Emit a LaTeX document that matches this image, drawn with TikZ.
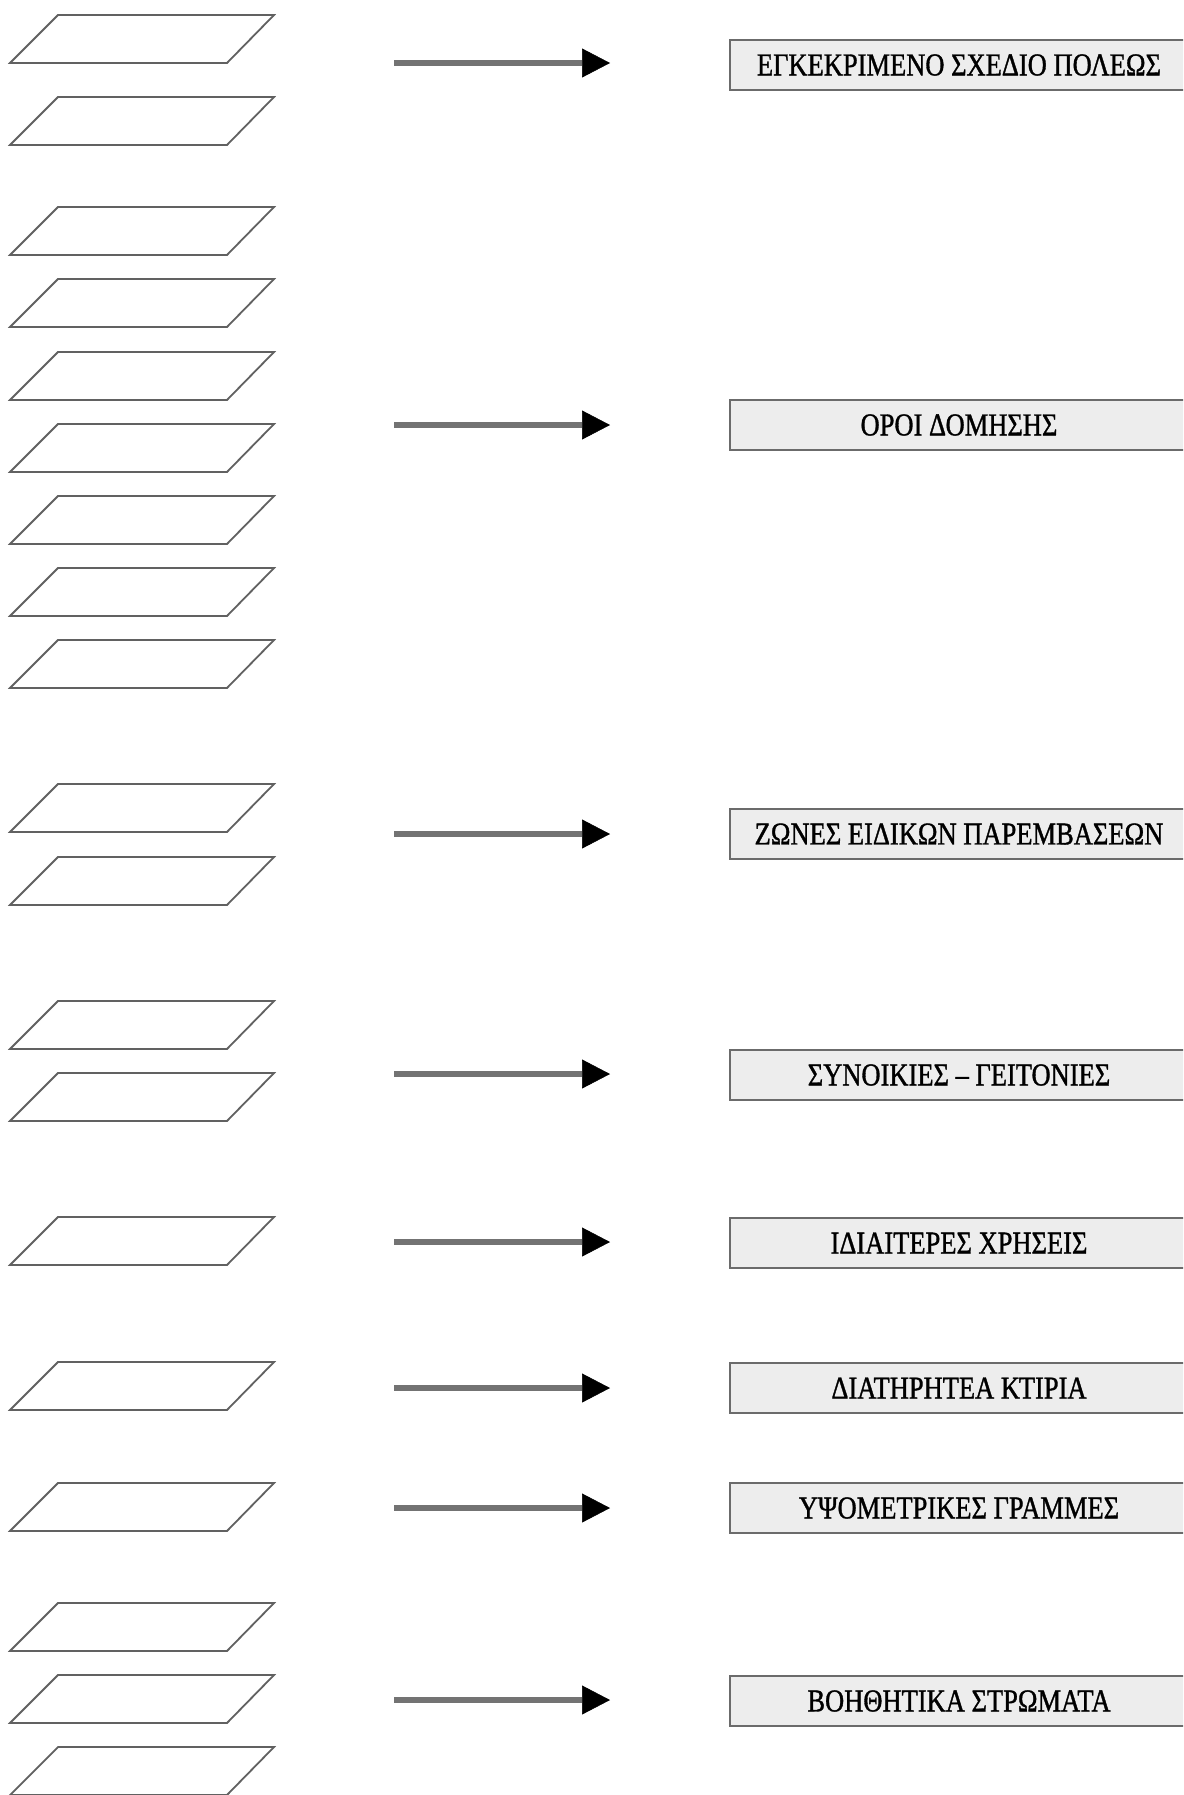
\documentclass[tikz,border=0pt]{standalone}
\usepackage{fontspec}
\usepackage{graphicx}
\setmainfont{Liberation Serif}
\newfontfamily\labelfont[FakeBold=1.2]{Liberation Serif}
\usetikzlibrary{arrows.meta}
\definecolor{boxfill}{gray}{0.93}
\definecolor{linegray}{gray}{0.38}
\definecolor{shaftgray}{gray}{0.45}
\definecolor{boxline}{gray}{0.42}
\begin{document}
\begin{tikzpicture}[x=1bp,y=-1bp,
  layer/.style={draw=linegray,line width=1.8bp,line join=miter},
  labelbox/.style={draw=boxline,line width=2.2bp,fill=boxfill,minimum width=458bp,minimum height=50bp,inner sep=0pt,font=\labelfont\fontsize{26.5bp}{30bp}\selectfont},
  flow/.style={draw=shaftgray,line width=5.5bp,-{Triangle[length=28bp,width=29bp,color=black,line width=0.5bp]}}]
\clip (0,0) rectangle (1183,1795);
\fill[white] (0,0) rectangle (1183,1795);
% stacked layers
\foreach \t in {15,97,207,279,352,424,496,568,640,784,857,1001,1073,1217,1362,1483,1603,1675,1747}
  \draw[layer] (10,\t+48) -- (227,\t+48) -- (274,\t) -- (58,\t) -- cycle;
% label boxes
\node[labelbox] (b1) at (959,65)   {\scalebox{1}[1.2]{ΕΓΚΕΚΡΙΜΕΝΟ ΣΧΕΔΙΟ ΠΟΛΕΩΣ}};
\node[labelbox] (b2) at (959,425)  {\scalebox{1}[1.2]{ΟΡΟΙ ΔΟΜΗΣΗΣ}};
\node[labelbox] (b3) at (959,834)  {\scalebox{1}[1.2]{ΖΩΝΕΣ ΕΙΔΙΚΩΝ ΠΑΡΕΜΒΑΣΕΩΝ}};
\node[labelbox] (b4) at (959,1075) {\scalebox{1}[1.2]{ΣΥΝΟΙΚΙΕΣ – ΓΕΙΤΟΝΙΕΣ}};
\node[labelbox] (b5) at (959,1243) {\scalebox{1}[1.2]{ΙΔΙΑΙΤΕΡΕΣ ΧΡΗΣΕΙΣ}};
\node[labelbox] (b6) at (959,1388) {\scalebox{1}[1.2]{ΔΙΑΤΗΡΗΤΕΑ ΚΤΙΡΙΑ}};
\node[labelbox] (b7) at (959,1508) {\scalebox{1}[1.2]{ΥΨΟΜΕΤΡΙΚΕΣ ΓΡΑΜΜΕΣ}};
\node[labelbox] (b8) at (959,1701) {\scalebox{1}[1.2]{ΒΟΗΘΗΤΙΚΑ ΣΤΡΩΜΑΤΑ}};
% arrows
\foreach \i/\y in {1/63,2/425,3/834,4/1074,5/1242,6/1388,7/1508,8/1700} {
  \coordinate (s\i) at (394,\y);
  \coordinate (e\i) at (610,\y);
  \draw[flow] (s\i) -- (e\i);
}
\end{tikzpicture}
\end{document}
